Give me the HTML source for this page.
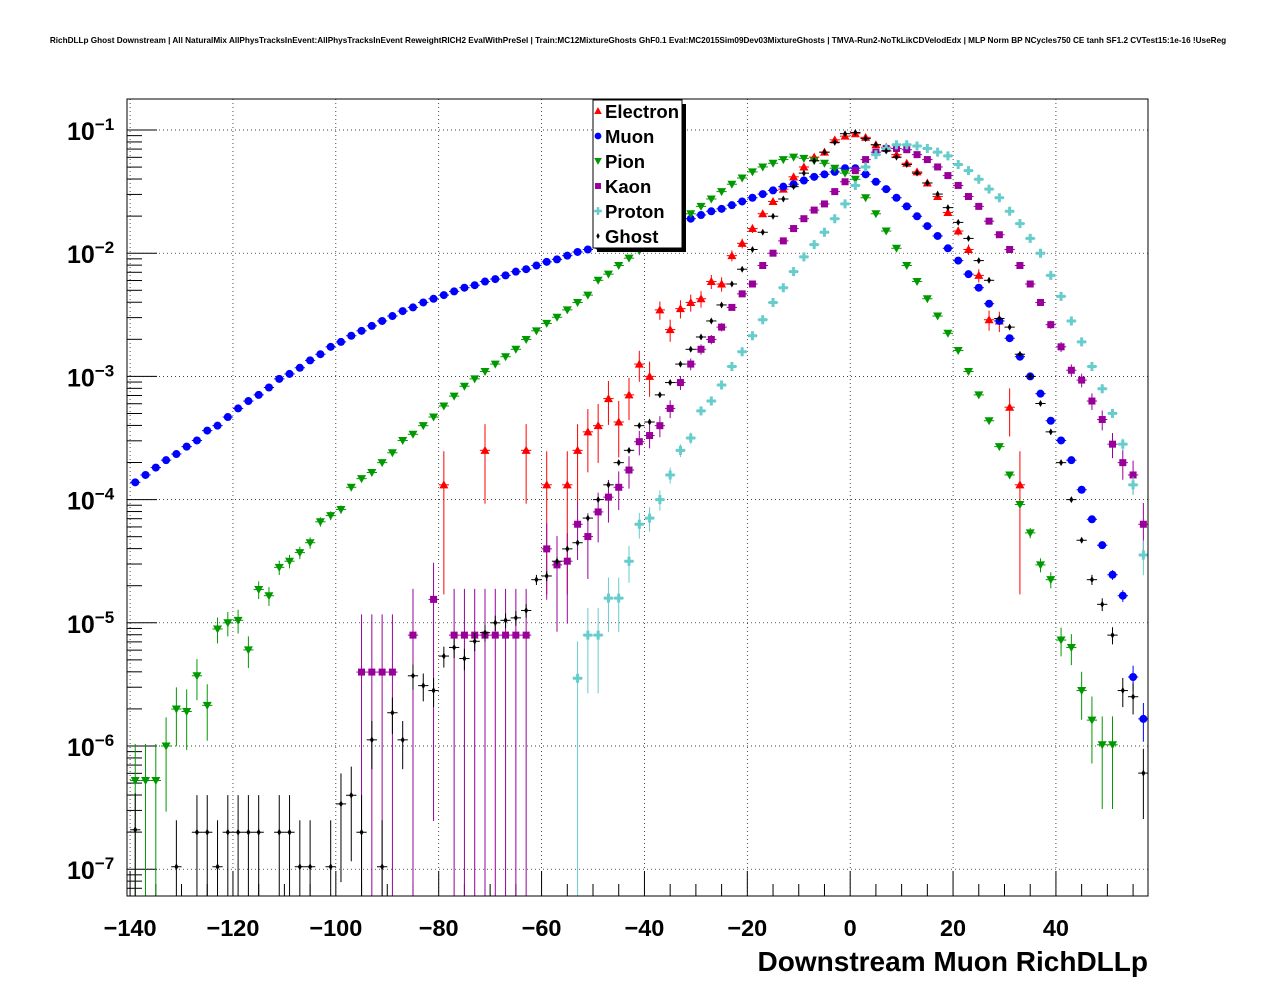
<!DOCTYPE html>
<html><head><meta charset="utf-8"><style>
body{margin:0;background:#fff;}
svg{display:block;font-family:"Liberation Sans",sans-serif;}
</style></head><body>
<svg id="c" width="1276" height="996" xmlns="http://www.w3.org/2000/svg">
<rect width="1276" height="996" fill="#fff"/>
<text x="638" y="43" font-size="8.2" font-weight="bold" text-anchor="middle">RichDLLp Ghost Downstream | All NaturalMix AllPhysTracksInEvent:AllPhysTracksInEvent ReweightRICH2 EvalWithPreSel | Train:MC12MixtureGhosts GhF0.1 Eval:MC2015Sim09Dev03MixtureGhosts | TMVA-Run2-NoTkLikCDVelodEdx | MLP Norm BP NCycles750 CE tanh SF1.2 CVTest15:1e-16 !UseReg</text>
<g id="grid"></g>
<g id="axes"></g>
<g id="marks"></g>
<rect x="127" y="99" width="1021" height="797" fill="none" stroke="#000" stroke-width="1"/>
<text x="1148" y="971" font-size="28" font-weight="bold" text-anchor="end">Downstream Muon RichDLLp</text>
<g id="legend"></g>
</svg>
<script>
const xTicks=[-140,-120,-100,-80,-60,-40,-20,0,20,40];
const yDecades=[-1,-2,-3,-4,-5,-6,-7];
const seriesNames=["Electron","Muon","Pion","Kaon","Proton","Ghost"];
const muonX=[-139,-137,-135,-133,-131,-129,-127,-125,-123,-121,-119,-117,-115,-113,-111,-109,-107,-105,-103,-101,-99,-97,-95,-93,-91,-89,-87,-85,-83,-81,-79,-77,-75,-73,-71,-69,-67,-65,-63,-61,-59,-57,-55,-53,-51,-49,-47,-45,-43,-41,-39,-37,-35,-33,-31,-29,-27,-25,-23,-21,-19,-17,-15,-13,-11,-9,-7,-5,-3,-1,1,3,5,7,9,11,13,15,17,19,21,23,25,27,29,31,33,35,37,39,41,43,45,47,49,51,53,55,57];
const muonLog=[-3.86,-3.80,-3.74,-3.68,-3.63,-3.57,-3.52,-3.44,-3.40,-3.33,-3.26,-3.20,-3.15,-3.09,-3.02,-2.98,-2.93,-2.87,-2.82,-2.76,-2.72,-2.67,-2.63,-2.59,-2.55,-2.51,-2.47,-2.44,-2.40,-2.37,-2.34,-2.31,-2.28,-2.26,-2.23,-2.21,-2.18,-2.15,-2.13,-2.10,-2.07,-2.05,-2.02,-1.99,-1.97,-1.94,-1.92,-1.89,-1.87,-1.84,-1.82,-1.79,-1.77,-1.74,-1.72,-1.69,-1.66,-1.64,-1.61,-1.58,-1.55,-1.52,-1.49,-1.46,-1.44,-1.41,-1.38,-1.36,-1.34,-1.31,-1.31,-1.36,-1.42,-1.48,-1.55,-1.62,-1.70,-1.78,-1.86,-1.96,-2.06,-2.17,-2.28,-2.41,-2.55,-2.69,-2.84,-3.00,-3.14,-3.36,-3.52,-3.68,-3.92,-4.16,-4.37,-4.61,-4.78,-5.44,-5.78];
const pionX=[-139,-137,-135,-133,-131,-129,-127,-125,-123,-121,-119,-117,-115,-113,-111,-109,-107,-105,-103,-101,-99,-97,-95,-93,-91,-89,-87,-85,-83,-81,-79,-77,-75,-73,-71,-69,-67,-65,-63,-61,-59,-57,-55,-53,-51,-49,-47,-45,-43,-41,-39,-37,-35,-33,-31,-29,-27,-25,-23,-21,-19,-17,-15,-13,-11,-9,-7,-5,-3,-1,1,3,5,7,9,11,13,15,17,19,21,23,25,27,29,31,33,35,37,39,41,43,45,47,49,51];
const pionLog=[-6.28,-6.28,-6.28,-6.0,-5.70,-5.72,-5.43,-5.67,-5.05,-5.0,-4.98,-5.22,-4.73,-4.78,-4.55,-4.50,-4.43,-4.35,-4.18,-4.13,-4.08,-3.90,-3.83,-3.78,-3.70,-3.62,-3.52,-3.47,-3.40,-3.33,-3.24,-3.16,-3.08,-3.02,-2.96,-2.90,-2.84,-2.78,-2.70,-2.63,-2.57,-2.52,-2.46,-2.40,-2.34,-2.22,-2.17,-2.10,-2.04,-1.98,-1.92,-1.86,-1.80,-1.74,-1.68,-1.62,-1.56,-1.50,-1.44,-1.39,-1.34,-1.30,-1.27,-1.24,-1.22,-1.23,-1.25,-1.27,-1.31,-1.35,-1.40,-1.55,-1.68,-1.82,-1.96,-2.10,-2.23,-2.37,-2.51,-2.65,-2.79,-2.96,-3.15,-3.36,-3.57,-3.80,-4.04,-4.27,-4.53,-4.65,-5.14,-5.20,-5.55,-5.79,-5.99,-5.99];
const electronX=[-79,-71,-63,-59,-55,-53,-51,-49,-47,-45,-43,-41,-39,-37,-35,-33,-31,-29,-27,-25,-23,-21,-19,-17,-15,-13,-11,-9,-7,-5,-3,-1,1,3,5,7,9,11,13,15,17,19,21,23,25,27,29,31,33];
const electronLog=[-3.88,-3.60,-3.60,-3.88,-3.88,-3.60,-3.45,-3.40,-3.18,-3.37,-3.15,-2.90,-3.0,-2.46,-2.62,-2.45,-2.40,-2.37,-2.23,-2.25,-2.02,-1.92,-1.80,-1.68,-1.58,-1.48,-1.38,-1.30,-1.22,-1.18,-1.08,-1.05,-1.03,-1.06,-1.12,-1.14,-1.20,-1.27,-1.34,-1.43,-1.54,-1.67,-1.82,-1.97,-2.18,-2.54,-2.55,-3.25,-3.88];
const kaonX=[-95,-93,-91,-89,-85,-81,-77,-75,-73,-71,-69,-67,-65,-63,-59,-57,-55,-53,-51,-49,-47,-45,-43,-41,-39,-37,-35,-33,-31,-29,-27,-25,-23,-21,-19,-17,-15,-13,-11,-9,-7,-5,-3,-1,1,3,5,7,9,11,13,15,17,19,21,23,25,27,29,31,33,35,37,39,41,43,45,47,49,51,53,55,57];
const kaonLog=[-5.40,-5.40,-5.40,-5.40,-5.10,-4.81,-5.10,-5.10,-5.10,-5.10,-5.10,-5.10,-5.10,-5.10,-4.40,-4.53,-4.50,-4.20,-4.30,-4.10,-3.98,-3.90,-3.76,-3.53,-3.48,-3.40,-3.26,-3.05,-2.90,-2.78,-2.70,-2.60,-2.44,-2.33,-2.25,-2.10,-2.00,-1.90,-1.80,-1.72,-1.65,-1.60,-1.50,-1.42,-1.33,-1.24,-1.18,-1.15,-1.15,-1.16,-1.20,-1.24,-1.30,-1.37,-1.45,-1.54,-1.62,-1.74,-1.85,-1.97,-2.10,-2.25,-2.40,-2.58,-2.76,-2.95,-3.03,-3.20,-3.35,-3.55,-3.70,-3.80,-4.20];
const protonX=[-53,-51,-49,-47,-45,-43,-41,-39,-37,-35,-33,-31,-29,-27,-25,-23,-21,-19,-17,-15,-13,-11,-9,-7,-5,-3,-1,1,3,5,7,9,11,13,15,17,19,21,23,25,27,29,31,33,35,37,39,41,43,45,47,49,51,53,55,57];
const protonLog=[-5.45,-5.10,-5.10,-4.80,-4.80,-4.50,-4.20,-4.15,-4.00,-3.80,-3.60,-3.50,-3.28,-3.20,-3.07,-2.92,-2.80,-2.67,-2.54,-2.40,-2.28,-2.15,-2.03,-1.93,-1.83,-1.72,-1.60,-1.45,-1.30,-1.20,-1.15,-1.12,-1.12,-1.13,-1.15,-1.18,-1.21,-1.28,-1.33,-1.40,-1.48,-1.55,-1.66,-1.76,-1.88,-2.00,-2.18,-2.35,-2.55,-2.72,-2.92,-3.10,-3.30,-3.55,-3.88,-4.45];
const ghostX=[-139,-131,-127,-125,-123,-121,-119,-117,-115,-111,-109,-107,-105,-101,-99,-97,-95,-93,-91,-89,-87,-85,-83,-81,-79,-77,-75,-73,-71,-69,-67,-65,-63,-61,-59,-57,-55,-53,-51,-49,-47,-45,-43,-41,-39,-37,-35,-33,-31,-29,-27,-25,-23,-21,-19,-17,-15,-13,-11,-9,-7,-5,-3,-1,1,3,5,7,9,11,13,15,17,19,21,23,25,27,29,31,33,35,37,39,41,43,45,47,49,51,53,55,57];
const ghostLog=[-6.68,-6.98,-6.70,-6.70,-6.98,-6.70,-6.70,-6.70,-6.70,-6.70,-6.70,-6.98,-6.98,-6.98,-6.47,-6.40,-6.70,-5.95,-6.98,-5.73,-5.95,-5.43,-5.51,-5.55,-5.27,-5.20,-5.29,-5.15,-5.08,-5.00,-4.98,-4.96,-4.90,-4.65,-4.62,-4.50,-4.40,-4.35,-4.15,-4.00,-3.88,-3.70,-3.60,-3.40,-3.37,-3.15,-3.05,-2.90,-2.78,-2.68,-2.55,-2.42,-2.25,-2.13,-1.97,-1.83,-1.70,-1.56,-1.46,-1.35,-1.25,-1.18,-1.10,-1.03,-1.02,-1.07,-1.12,-1.17,-1.22,-1.28,-1.35,-1.43,-1.52,-1.63,-1.75,-1.88,-2.06,-2.22,-2.53,-2.60,-2.82,-3.00,-3.22,-3.45,-3.70,-4.00,-4.33,-4.65,-4.85,-5.10,-5.55,-5.60,-6.22];

const NS="http://www.w3.org/2000/svg";
const L=127,R=1148,T=99,B=896;
const X0=-140.6,X1=57.9;
const sx=v=>L+(v-X0)/(X1-X0)*(R-L);
const sy=lg=>130-(lg+1)*123.2;
function mk(tag,attrs,parent){const e=document.createElementNS(NS,tag);for(const k in attrs)e.setAttribute(k,attrs[k]);parent.appendChild(e);return e;}
const grid=document.getElementById('grid'),axes=document.getElementById('axes'),marks=document.getElementById('marks'),leg=document.getElementById('legend');

xTicks.forEach(t=>{
  const x=sx(t);
  const gl=mk('line',{x1:x,x2:x,y1:T,y2:B,stroke:'#000','stroke-width':0.7,'stroke-dasharray':'1,3'},grid);
  
  
  mk('line',{x1:x,x2:x,y1:B,y2:B-25,stroke:'#000'},axes);
  const tx=mk('text',{x:x,y:936,'font-size':23.5,'font-weight':'bold','text-anchor':'middle'},axes);
  tx.textContent=(t<0?'\u2212'+(-t):t);
  
  
});
for(let t=-140;t<=57;t+=5){if(t%20!==0){const x=sx(t);mk('line',{x1:x,x2:x,y1:B,y2:B-12,stroke:'#000'},axes);}}
yDecades.forEach(d=>{
  const y=sy(d);
  const gl=mk('line',{x1:L,x2:R,y1:y,y2:y,stroke:'#000','stroke-width':0.7,'stroke-dasharray':'1,3'},grid);
  
  
  mk('line',{x1:L,x2:L+30,y1:y,y2:y,stroke:'#000'},axes);
  const tx=mk('text',{x:67,y:y+10,'font-size':25,'font-weight':'bold'},axes);
  tx.innerHTML='10<tspan dy="-10" font-size="17">\u2212'+(-d)+'</tspan>';
  
  
});
for(let d=-8;d<=-1;d++){for(let m=2;m<=9;m++){const y=sy(d+Math.log10(m));if(y>T&&y<B)mk('line',{x1:L,x2:L+15,y1:y,y2:y,stroke:'#000'},axes);}}

function marker(type,color,x,y,parent,s){
  s=s||1;let e;
  if(type==='tu')e=mk('polygon',{points:`${x},${y-4.5*s} ${x-4.5*s},${y+3.5*s} ${x+4.5*s},${y+3.5*s}`,fill:color},parent);
  else if(type==='td')e=mk('polygon',{points:`${x},${y+4.5*s} ${x-4.5*s},${y-3.5*s} ${x+4.5*s},${y-3.5*s}`,fill:color},parent);
  else if(type==='c')e=mk('circle',{cx:x,cy:y,r:4*s,fill:color},parent);
  else if(type==='sq')e=mk('rect',{x:x-3.5*s,y:y-3.5*s,width:7*s,height:7*s,fill:color},parent);
  else if(type==='cr')e=mk('path',{d:`M${x-4.5*s},${y-1.5*s}h${3*s}v${-3*s}h${3*s}v${3*s}h${3*s}v${3*s}h${-3*s}v${3*s}h${-3*s}v${-3*s}h${-3*s}z`,fill:color},parent);
  else e=mk('polygon',{points:`${x},${y-3.5*s} ${x+2*s},${y} ${x},${y+3.5*s} ${x-2*s},${y}`,fill:color},parent);
  return e;
}
const series=[
 {name:'electron',xs:electronX,ls:electronLog,c:'#ff0000',m:'tu',k:1e-4},
 {name:'muon',xs:muonX,ls:muonLog,c:'#0000ff',m:'c',k:2e-7},
 {name:'pion',xs:pionX,ls:pionLog,c:'#009900',m:'td',k:5e-7},
 {name:'kaon',xs:kaonX,ls:kaonLog,c:'#990099',m:'sq',k:1.5e-5},
 {name:'proton',xs:protonX,ls:protonLog,c:'#66cccc',m:'cr',k:3.5e-6},
 {name:'ghost',xs:ghostX,ls:ghostLog,c:'#000000',m:'d',k:2e-7}
];
series.forEach(s=>{
  const g=mk('g',{},marks);
  
  
  s.xs.forEach((xv,i)=>{
    const lg=s.ls[i];const x=sx(xv),y=sy(lg);
    const v=Math.pow(10,lg);
    const rel=Math.sqrt(s.k/v);
    const yt=sy(lg+Math.log10(1+rel));
    const yb=rel>=0.99?B:Math.min(B,sy(lg+Math.log10(1-rel)));
    mk('line',{x1:sx(xv-1),x2:sx(xv+1),y1:y,y2:y,stroke:s.c,'stroke-width':1},g);
    if(yb-yt>8)mk('line',{x1:x,x2:x,y1:Math.max(T,yt),y2:yb,stroke:s.c,'stroke-width':1},g);
    const p=marker(s.m,s.c,x,y,g);
    
    
  });
});
mk('rect',{x:597,y:104,width:89,height:148,fill:'#000'},leg);
mk('rect',{x:593,y:100,width:89,height:148,fill:'#fff',stroke:'#000','stroke-width':1},leg);
seriesNames.forEach((n,i)=>{
  const y=111+i*25;
  const s=series[i];
  marker(s.m,s.c,598,y,leg,0.85);
  const t=mk('text',{x:605,y:y+7,'font-size':18.5,'font-weight':'bold'},leg);
  t.textContent=n;
  
  
});
</script>
</body></html>
